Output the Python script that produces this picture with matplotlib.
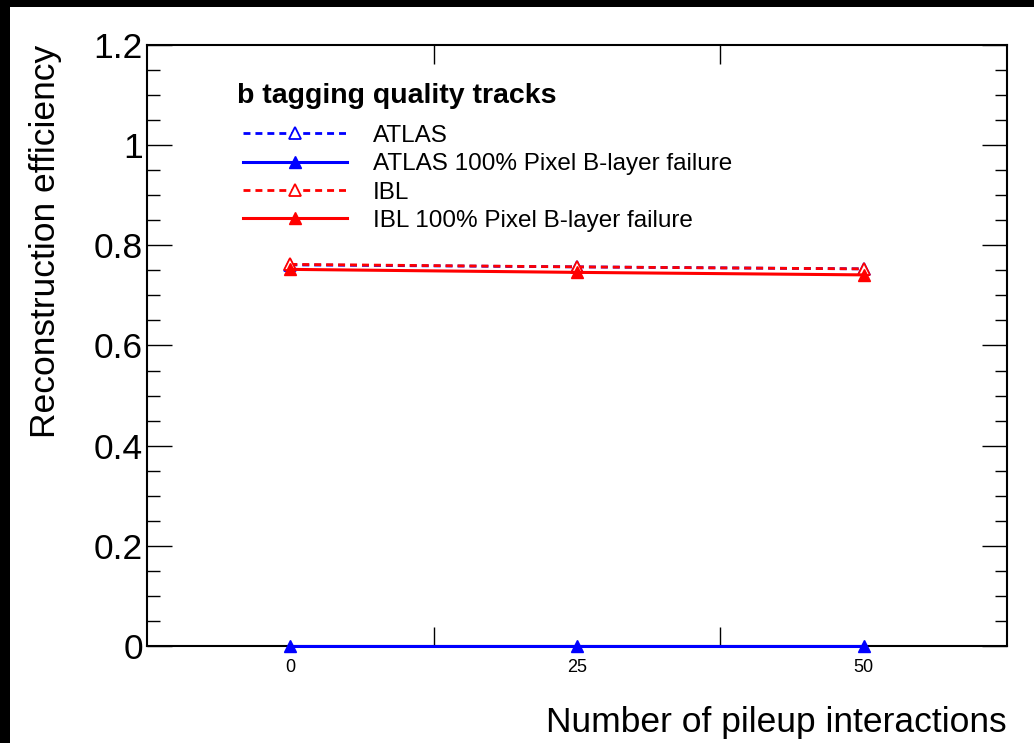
import matplotlib
matplotlib.use("Agg")
import matplotlib.pyplot as plt
from matplotlib.patches import Rectangle
from matplotlib.ticker import MultipleLocator, FixedLocator, FuncFormatter

plt.rcParams['font.family'] = ['Liberation Sans', 'DejaVu Sans']

# reconstruction efficiency vs pileup
pileup = [0, 25, 50]
atlas = [0.761, 0.757, 0.753]
atlas_fail = [0.0, 0.0, 0.0]
ibl = [0.762, 0.757, 0.753]
ibl_fail = [0.752, 0.746, 0.741]

fig = plt.figure(figsize=(10.34, 7.43), dpi=100)
fig.patch.set_facecolor('black')
fig.patches.append(Rectangle((10 / 1034, 0), 1 - 10 / 1034, 736 / 743,
                             transform=fig.transFigure, facecolor='white',
                             edgecolor='none', zorder=-1))

ax = fig.add_axes([147 / 1034, 97 / 743, 860 / 1034, 601 / 743])

ax.plot(pileup, atlas, color='blue', ls=(0, (2.5, 1.8)), lw=2, marker='^',
        ms=9, mfc='white', mec='blue', mew=1.3, label='ATLAS')
ax.plot(pileup, atlas_fail, color='blue', ls='-', lw=2.2, marker='^',
        ms=9, mfc='blue', mec='blue', clip_on=False, zorder=4,
        label='ATLAS 100% Pixel B-layer failure')
ax.plot(pileup, ibl, color='red', ls=(0, (2.5, 1.8)), lw=2, marker='^',
        ms=9, mfc='white', mec='red', mew=1.3, label='IBL')
ax.plot(pileup, ibl_fail, color='red', ls='-', lw=2.2, marker='^',
        ms=9, mfc='red', mec='red', label='IBL 100% Pixel B-layer failure')

ax.set_xlim(-12.5, 62.5)
ax.set_ylim(0, 1.2)

# bin edges carry the tick marks, bin centres carry the labels
ax.xaxis.set_major_locator(FixedLocator([12.5, 37.5]))
ax.xaxis.set_minor_locator(FixedLocator(pileup))
ax.xaxis.set_major_formatter(FuncFormatter(lambda v, p: ''))
ax.xaxis.set_minor_formatter(FuncFormatter(lambda v, p: '%d' % v))
ax.tick_params(axis='x', which='major', direction='in', length=14, width=1,
               top=True, bottom=True)
ax.tick_params(axis='x', which='minor', length=0, pad=9, labelsize=13)

ax.yaxis.set_major_locator(MultipleLocator(0.2))
ax.yaxis.set_minor_locator(MultipleLocator(0.05))
ax.yaxis.set_major_formatter(FuncFormatter(lambda v, p: '%g' % round(v, 2)))
ax.tick_params(axis='y', which='major', direction='in', length=18, width=1,
               left=True, right=True, labelsize=25.5, pad=3)
ax.tick_params(axis='y', which='minor', direction='in', length=9, width=1,
               left=True, right=True)

for s in ax.spines.values():
    s.set_linewidth(1.5)

ax.set_ylabel('Reconstruction efficiency', fontsize=25.5)
ax.yaxis.set_label_coords(-0.099, 1.0)
ax.yaxis.label.set_horizontalalignment('right')
ax.set_xlabel('Number of pileup interactions', fontsize=25.5)
ax.xaxis.set_label_coords(1.0, -0.1)
ax.xaxis.label.set_horizontalalignment('right')

# legend header drawn separately so it can sit a bit higher than the entries
ax.text(0.1047, 0.9035, 'b tagging quality tracks', transform=ax.transAxes,
        fontsize=20.5, fontweight='bold', va='baseline', ha='left')
leg = ax.legend(loc='upper left', bbox_to_anchor=(0.1116, 0.867), frameon=False,
                fontsize=17.5, handlelength=4.3, handletextpad=1.03,
                labelspacing=0.26, borderpad=0, borderaxespad=0)

fig.savefig('out.png', dpi=100, facecolor=fig.get_facecolor())
